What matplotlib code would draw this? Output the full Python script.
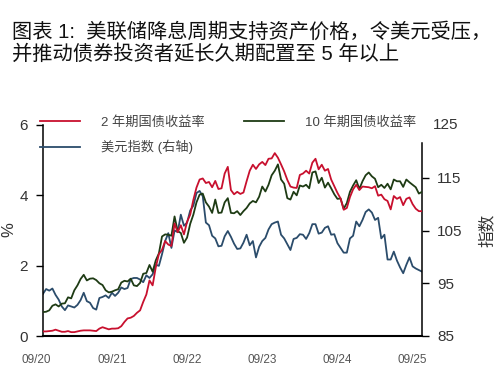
import matplotlib
matplotlib.use("Agg")
import matplotlib.pyplot as plt
import matplotlib.transforms as mtransforms
from matplotlib.lines import Line2D

plt.rcParams['font.family'] = ['Liberation Sans', 'Noto Sans CJK SC', 'DejaVu Sans']

# Semi-monthly readings, Sep 2020 - Sep 2025
y2 = [0.13, 0.13, 0.14, 0.15, 0.18, 0.15, 0.12, 0.12,
      0.14, 0.11, 0.11, 0.13, 0.15, 0.16, 0.16, 0.16,
      0.15, 0.14, 0.21, 0.25, 0.22, 0.19, 0.21, 0.21,
      0.22, 0.28, 0.40, 0.50, 0.52, 0.57, 0.66, 0.73,
      0.97, 1.18, 1.58, 1.44, 1.95, 2.33, 2.45, 2.70,
      2.60, 2.56, 3.20, 2.95, 3.15, 2.89, 3.25, 3.45,
      3.87, 4.22, 4.45, 4.48, 4.35, 4.38, 4.23, 4.41,
      4.18, 4.20, 4.62, 4.81, 4.15, 4.03, 4.10, 4.04,
      4.08, 4.40, 4.70, 4.87, 4.75, 4.88, 4.95, 4.86,
      5.04, 5.05, 5.20, 5.07, 4.88, 4.68, 4.44, 4.25,
      4.22, 4.21, 4.58, 4.62, 4.70, 4.62, 4.93, 5.04,
      4.74, 4.87, 4.70, 4.75, 4.45, 4.26, 4.07, 3.91,
      3.59, 3.64, 3.95, 4.17, 4.30, 4.15, 4.25, 4.24,
      4.23, 4.20, 4.26, 3.99, 4.02, 3.89, 3.84, 3.60,
      3.98, 3.90, 3.95, 3.72, 3.90, 3.94, 3.75, 3.62,
      3.55, 3.55]

y10 = [0.68, 0.69, 0.73, 0.86, 0.90, 0.84, 0.92, 0.93,
       1.10, 1.07, 1.30, 1.44, 1.62, 1.74, 1.58, 1.63,
       1.64, 1.59, 1.50, 1.45, 1.30, 1.24, 1.26, 1.30,
       1.33, 1.52, 1.57, 1.55, 1.63, 1.44, 1.42, 1.51,
       1.77, 1.79, 2.02, 1.83, 2.15, 2.35, 2.83, 2.89,
       2.88, 2.85, 3.40, 2.98, 2.93, 2.65, 2.80, 3.19,
       3.45, 3.80, 4.02, 4.05, 3.80, 3.68, 3.50, 3.88,
       3.50, 3.51, 3.80, 3.92, 3.50, 3.49, 3.55, 3.44,
       3.55, 3.64, 3.77, 3.84, 3.80, 3.96, 4.25, 4.11,
       4.30, 4.57, 4.70, 4.88, 4.45, 4.33, 3.92, 3.88,
       4.10, 4.00, 4.28, 4.25, 4.30, 4.20, 4.65, 4.68,
       4.35, 4.50, 4.22, 4.36, 4.20, 4.03, 3.90, 3.91,
       3.62, 3.78, 4.10, 4.28, 4.43, 4.18, 4.40, 4.57,
       4.65, 4.54, 4.47, 4.23, 4.30, 4.21, 4.33, 4.17,
       4.45, 4.40, 4.40, 4.24, 4.45, 4.37, 4.30, 4.23,
       4.05, 4.10]

dxy = [93.0, 93.9, 93.6, 94.0, 92.8, 91.9, 90.6, 89.9,
       90.8, 90.6, 90.4, 90.9, 91.8, 93.2, 91.6, 91.3,
       90.3, 90.0, 92.2, 92.4, 92.7, 92.2, 93.2, 92.6,
       93.2, 94.2, 93.9, 94.1, 95.8, 96.0, 96.0, 95.7,
       95.2, 96.5, 96.0, 96.7, 98.5, 98.3, 100.5, 103.0,
       104.5, 101.7, 105.0, 104.7, 108.0, 105.9, 106.5, 108.8,
       109.7, 112.1, 112.5, 111.5, 106.5, 106.0, 104.0, 103.5,
       102.0, 102.1, 103.9, 104.9, 103.8, 102.5, 101.5, 101.6,
       102.7, 104.2, 102.2, 103.0, 99.9, 101.9, 103.0, 103.6,
       105.2, 106.2, 106.5, 106.7, 104.2, 103.5, 102.4, 101.3,
       103.4, 103.6, 104.3, 104.2, 103.4, 104.5, 106.2, 106.2,
       104.4, 104.6, 105.5, 105.8, 104.2, 104.3, 102.6, 101.7,
       100.8, 100.8, 103.5, 104.0, 106.7, 105.8, 107.0, 108.5,
       109.0, 108.4, 107.0, 107.4, 103.5, 104.2, 99.5, 99.5,
       101.0, 99.3, 98.0, 96.9, 98.5, 99.9, 98.2, 97.8,
       97.5, 97.2]

xlabels = ['09/20', '09/21', '09/22', '09/23', '09/24', '09/25']
xlabel_pos = [-2, 22, 46, 70, 94, 118]
left_ticks = [0, 2, 4, 6]
right_ticks = [85, 95, 105, 115]
right_top = 125

title = "图表 1:  美联储降息周期支持资产价格，令美元受压，\n并推动债券投资者延长久期配置至 5 年以上"
names = ['2 年期国债收益率', '美元指数 (右轴)', '10 年期国债收益率']

c_red = '#C8102E'
c_green = '#1E3B14'
c_blue = '#2B4C6B'

fig = plt.figure(figsize=(5.0, 3.86), dpi=100)
ax = fig.add_axes([43/500, 1-336/386, 379/500, 211/386])
ax2 = ax.twinx()

x = list(range(len(y2)))
ax2.plot(x, dxy, color=c_blue, lw=1.3)
ax.plot(x, y10, color=c_green, lw=1.3, zorder=3)
ax.plot(x, y2, color=c_red, lw=1.3, zorder=4)
ax.set_zorder(ax2.get_zorder() + 1)
ax.patch.set_visible(False)

ax.set_xlim(0, len(y2) - 1)
ax.set_ylim(0, 6)
ax2.set_ylim(85, 125)
ax.set_yticks(left_ticks)
ax2.set_yticks(right_ticks)
ax.set_xticks([])

for s in ['top', 'right']:
    ax.spines[s].set_visible(False)
for s in ['top', 'left', 'bottom']:
    ax2.spines[s].set_visible(False)
ax.spines['left'].set_linewidth(1.1)
ax.spines['bottom'].set_linewidth(1.5)
ax2.spines['right'].set_linewidth(1.1)
ax2.spines['right'].set_bounds(85, 121.6)

ax.tick_params(axis='y', length=5, width=1.0, labelsize=11, labelcolor='#333333', pad=6)
ax2.tick_params(axis='y', length=5, width=1.0, labelsize=11, labelcolor='#333333', pad=6)
# top right label without tick mark
trans_r = mtransforms.blended_transform_factory(ax2.transAxes, ax2.transData)
ax2.text(1 + 11/379, right_top, str(right_top), transform=trans_r, ha='left',
         va='center', fontsize=11, color='#333333', clip_on=False)

trans = mtransforms.blended_transform_factory(ax.transData, ax.transAxes)
for p, l in zip(xlabel_pos, xlabels):
    ax.text(p, -24/211, l, transform=trans, ha='center', va='center',
            fontsize=8.5, color='#555555', clip_on=False)

fig.text(9/500, 1-230/386, '%', rotation=90, ha='center', va='center',
         fontsize=12, color='#333333')
fig.text(487/500, 1-230/386, '指数', rotation=90, ha='center', va='center',
         fontsize=12, color='#333333')

fig.text(12/500, 1-43/386, title, ha='left', va='center', fontsize=14.6,
         color='#111111', linespacing=1.2)

handles = [Line2D([], [], color=c_red, lw=1.3),
           Line2D([], [], color=c_blue, lw=1.3),
           Line2D([], [], color=c_green, lw=1.3)]
leg = fig.legend(handles, names, ncol=2, loc='upper left',
                 bbox_to_anchor=(40/500, 1-116/386), frameon=False,
                 fontsize=9.5, handlelength=3.0, handletextpad=1.6,
                 columnspacing=3.0, labelspacing=0.85, borderpad=0,
                 borderaxespad=0, labelcolor='#444444')

fig.savefig('out.png', dpi=100)
